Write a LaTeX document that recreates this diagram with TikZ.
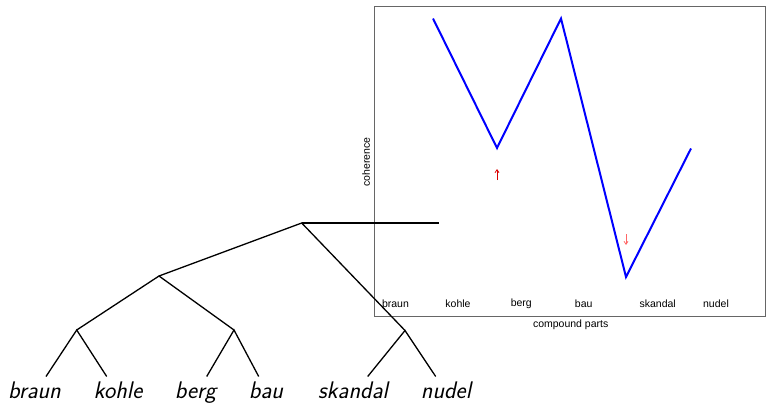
\documentclass[tikz,border=0pt]{standalone}
\usepackage{fontspec}
\usetikzlibrary{arrows.meta}
\newfontfamily\plotfont{Liberation Sans}
\begin{document}
\begin{tikzpicture}[x=1pt,y=-1pt,
  treeline/.style={line width=1.3pt,black},
  leaf/.style={font=\fontsize{24}{28}\selectfont\sffamily\itshape,anchor=base},
  axlab/.style={font=\fontsize{10.5}{12}\selectfont\plotfont},
  curve/.style={line width=2pt,blue,line join=miter}]
\useasboundingbox (0,0) rectangle (766,402);
% plot frame
\draw[gray!80!black,line width=0.8pt] (374.3,6) rectangle (765.5,316.8);
% tree nodes
\coordinate (root) at (301.7,223);
\coordinate (rootend) at (439.3,223);
\coordinate (n1) at (159,276);
\coordinate (n2) at (405,330.5);
\coordinate (n11) at (76.7,330);
\coordinate (n12) at (234,330);
\coordinate (l1) at (46,376.5);
\coordinate (l2) at (106.7,376.5);
\coordinate (l3) at (206.7,376.5);
\coordinate (l4) at (258.7,376.5);
\coordinate (l5) at (367.7,376.5);
\coordinate (l6) at (435.7,376.5);
\draw[treeline] (root) -- (rootend);
\draw[treeline] (n1) -- (root) -- (n2);
\draw[treeline] (n11) -- (n1) -- (n12);
\draw[treeline] (l1) -- (n11) -- (l2);
\draw[treeline] (l3) -- (n12) -- (l4);
\draw[treeline] (l5) -- (n2) -- (l6);
\node[leaf] (t1) at (34.5,398.5) {braun};
\node[leaf] (t2) at (118,398.5) {kohle};
\node[leaf] (t3) at (195.5,398.5) {berg};
\node[leaf] (t4) at (266,398.5) {bau};
\node[leaf] (t5) at (353,398.5) {skandal};
\node[leaf] (t6) at (446,398.5) {nudel};
% curve
\coordinate (p1) at (433,18.5);
\coordinate (p2) at (497,148);
\coordinate (p3) at (561,18.5);
\coordinate (p4) at (626,277);
\coordinate (p5) at (691,148.5);
\draw[curve] (p1) -- (p2) -- (p3) -- (p4) -- (p5);
% arrows
\coordinate (a1s) at (497,180);
\coordinate (a1e) at (497,169);
\coordinate (a2s) at (626,234);
\coordinate (a2e) at (626,245);
\draw[red!85!black,line width=0.8pt,-{Straight Barb[length=3pt,width=4pt]}] (a1s) -- (a1e);
\draw[red!60!white,line width=0.8pt,-{Straight Barb[length=3pt,width=4pt]}] (a2s) -- (a2e);
% axis labels
\node[axlab] (x1) at (395.5,304) {braun};
\node[axlab] (x2) at (458,304) {kohle};
\node[axlab] (x3) at (521.3,304) {berg};
\node[axlab] (x4) at (583.7,304) {bau};
\node[axlab] (x5) at (657.7,304) {skandal};
\node[axlab] (x6) at (716,304) {nudel};
\node[axlab] (xl) at (570.7,325) {compound parts};
\node[axlab,rotate=90] (yl) at (366,162) {coherence};
\end{tikzpicture}
\end{document}
